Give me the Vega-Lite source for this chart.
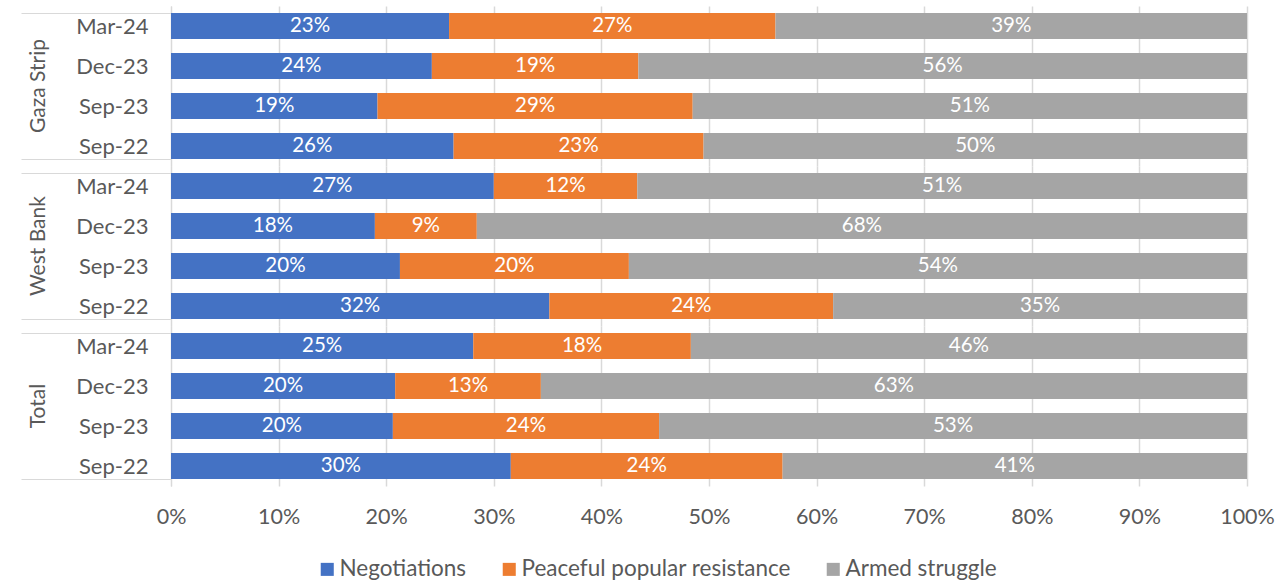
{
  "$schema": "https://vega.github.io/schema/vega-lite/v6.json",
  "padding": {"left": 20, "top": -5, "right": 10, "bottom": 5},
  "config": {
    "font": "Lato",
    "view": {"stroke": null},
    "facet": {"spacing": 0},
    "axis": {"labelColor": "#595959", "title": null}
  },
  "data": {
    "values": [
      {"region": "Gaza Strip", "period": "Mar-24", "series": "Negotiations", "ord": 1, "value": 0.23},
      {"region": "Gaza Strip", "period": "Mar-24", "series": "Peaceful popular resistance", "ord": 2, "value": 0.27},
      {"region": "Gaza Strip", "period": "Mar-24", "series": "Armed struggle", "ord": 3, "value": 0.39},
      {"region": "Gaza Strip", "period": "Dec-23", "series": "Negotiations", "ord": 1, "value": 0.24},
      {"region": "Gaza Strip", "period": "Dec-23", "series": "Peaceful popular resistance", "ord": 2, "value": 0.19},
      {"region": "Gaza Strip", "period": "Dec-23", "series": "Armed struggle", "ord": 3, "value": 0.56},
      {"region": "Gaza Strip", "period": "Sep-23", "series": "Negotiations", "ord": 1, "value": 0.19},
      {"region": "Gaza Strip", "period": "Sep-23", "series": "Peaceful popular resistance", "ord": 2, "value": 0.29},
      {"region": "Gaza Strip", "period": "Sep-23", "series": "Armed struggle", "ord": 3, "value": 0.51},
      {"region": "Gaza Strip", "period": "Sep-22", "series": "Negotiations", "ord": 1, "value": 0.26},
      {"region": "Gaza Strip", "period": "Sep-22", "series": "Peaceful popular resistance", "ord": 2, "value": 0.23},
      {"region": "Gaza Strip", "period": "Sep-22", "series": "Armed struggle", "ord": 3, "value": 0.50},
      {"region": "West Bank", "period": "Mar-24", "series": "Negotiations", "ord": 1, "value": 0.27},
      {"region": "West Bank", "period": "Mar-24", "series": "Peaceful popular resistance", "ord": 2, "value": 0.12},
      {"region": "West Bank", "period": "Mar-24", "series": "Armed struggle", "ord": 3, "value": 0.51},
      {"region": "West Bank", "period": "Dec-23", "series": "Negotiations", "ord": 1, "value": 0.18},
      {"region": "West Bank", "period": "Dec-23", "series": "Peaceful popular resistance", "ord": 2, "value": 0.09},
      {"region": "West Bank", "period": "Dec-23", "series": "Armed struggle", "ord": 3, "value": 0.68},
      {"region": "West Bank", "period": "Sep-23", "series": "Negotiations", "ord": 1, "value": 0.20},
      {"region": "West Bank", "period": "Sep-23", "series": "Peaceful popular resistance", "ord": 2, "value": 0.20},
      {"region": "West Bank", "period": "Sep-23", "series": "Armed struggle", "ord": 3, "value": 0.54},
      {"region": "West Bank", "period": "Sep-22", "series": "Negotiations", "ord": 1, "value": 0.32},
      {"region": "West Bank", "period": "Sep-22", "series": "Peaceful popular resistance", "ord": 2, "value": 0.24},
      {"region": "West Bank", "period": "Sep-22", "series": "Armed struggle", "ord": 3, "value": 0.35},
      {"region": "Total", "period": "Mar-24", "series": "Negotiations", "ord": 1, "value": 0.25},
      {"region": "Total", "period": "Mar-24", "series": "Peaceful popular resistance", "ord": 2, "value": 0.18},
      {"region": "Total", "period": "Mar-24", "series": "Armed struggle", "ord": 3, "value": 0.46},
      {"region": "Total", "period": "Dec-23", "series": "Negotiations", "ord": 1, "value": 0.20},
      {"region": "Total", "period": "Dec-23", "series": "Peaceful popular resistance", "ord": 2, "value": 0.13},
      {"region": "Total", "period": "Dec-23", "series": "Armed struggle", "ord": 3, "value": 0.63},
      {"region": "Total", "period": "Sep-23", "series": "Negotiations", "ord": 1, "value": 0.20},
      {"region": "Total", "period": "Sep-23", "series": "Peaceful popular resistance", "ord": 2, "value": 0.24},
      {"region": "Total", "period": "Sep-23", "series": "Armed struggle", "ord": 3, "value": 0.53},
      {"region": "Total", "period": "Sep-22", "series": "Negotiations", "ord": 1, "value": 0.30},
      {"region": "Total", "period": "Sep-22", "series": "Peaceful popular resistance", "ord": 2, "value": 0.24},
      {"region": "Total", "period": "Sep-22", "series": "Armed struggle", "ord": 3, "value": 0.41}
    ]
  },
  "facet": {
    "row": {
      "field": "region",
      "type": "nominal",
      "sort": ["Gaza Strip", "West Bank", "Total"],
      "header": {"title": null, "labelAngle": -90, "labelFontSize": 21, "labelColor": "#595959", "labelPadding": -39, "labelFont": "Lato"}
    }
  },
  "spec": {
    "width": 1076,
    "height": 160,
    "encoding": {
      "y": {
        "field": "period",
        "type": "nominal",
        "sort": ["Mar-24", "Dec-23", "Sep-23", "Sep-22"],
        "scale": {"paddingInner": 0.35, "paddingOuter": 0.175},
        "axis": {
          "tickBand": "extent",
          "tickSize": 150,
          "tickColor": "#D9D9D9",
          "tickOpacity": {"condition": {"test": "datum.value !== 'Mar-24' && datum.value !== 'Dec-23' && datum.value !== 'Sep-23'", "value": 1}, "value": 0},
          "domainColor": "#D9D9D9",
          "labelPadding": -127,
          "labelFontSize": 22,
          "grid": false
        }
      },
      "x": {
        "field": "value",
        "type": "quantitative",
        "stack": "normalize",
        "scale": {"domain": [0, 1]},
        "axis": {
          "format": ".0%",
          "values": [0, 0.1, 0.2, 0.3, 0.4, 0.5, 0.6, 0.7, 0.8, 0.9, 1],
          "grid": true,
          "gridColor": "#D9D9D9",
          "gridWidth": 1.5,
          "domain": false,
          "ticks": false,
          "labelFlush": false,
          "labelFontSize": 21.5,
          "labelPadding": 20
        }
      },
      "order": {"field": "ord", "type": "quantitative"}
    },
    "layer": [
      {
        "mark": {"type": "bar"},
        "encoding": {
          "color": {
            "field": "series",
            "type": "nominal",
            "sort": ["Negotiations", "Peaceful popular resistance", "Armed struggle"],
            "scale": {"domain": ["Negotiations", "Peaceful popular resistance", "Armed struggle"], "range": ["#4472C4", "#ED7D31", "#A5A5A5"]},
            "legend": {
              "title": null,
              "orient": "none",
              "legendX": 145,
              "legendY": 552,
              "direction": "horizontal",
              "symbolType": "square",
              "symbolSize": 170,
              "symbolStrokeWidth": 0,
              "labelFontSize": 22.5,
              "labelLimit": 500,
              "labelOffset": 1,
              "labelColor": "#595959",
              "columnPadding": 31
            }
          }
        }
      },
      {
        "mark": {"type": "text", "color": "white", "fontSize": 20.5},
        "encoding": {
          "x": {"field": "value", "type": "quantitative", "stack": "normalize", "bandPosition": 0.5},
          "text": {"field": "value", "type": "quantitative", "format": ".0%"}
        }
      }
    ]
  }
}
